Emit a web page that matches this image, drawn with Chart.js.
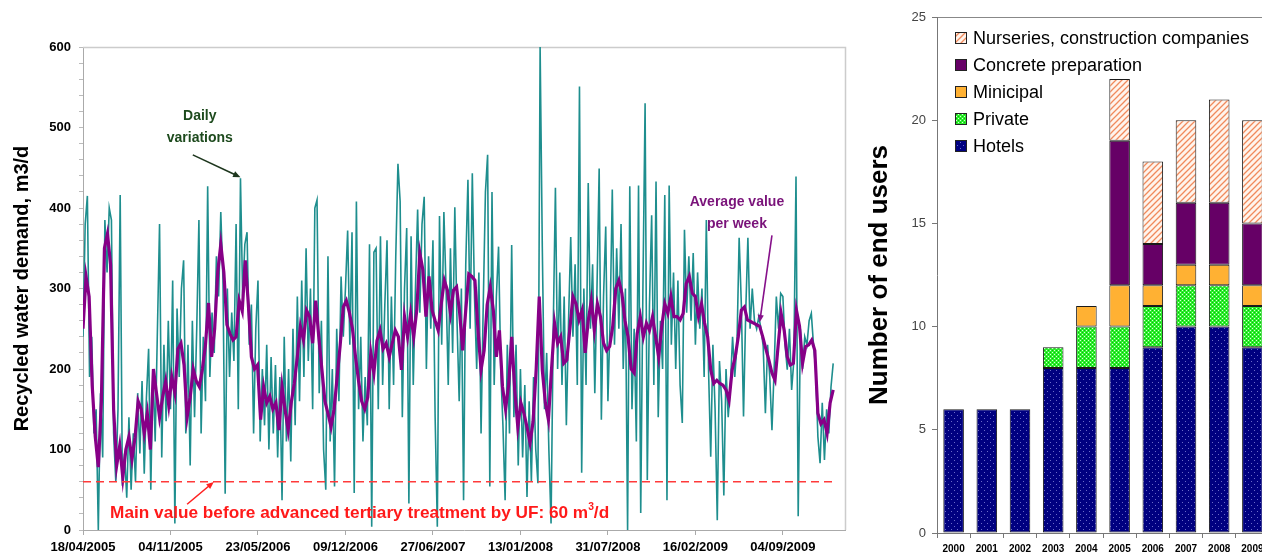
<!DOCTYPE html>
<html><head><meta charset="utf-8">
<script src="https://cdn.jsdelivr.net/npm/chart.js@4.4.0/dist/chart.umd.min.js"></script>
<style>
html,body{margin:0;padding:0;background:#fff;overflow:hidden;width:1262px;height:559px;position:relative;}
#w1{position:absolute;left:0;top:0;width:860px;height:559px;}
#w2{position:absolute;left:860px;top:0;width:420px;height:559px;}
</style></head><body>
<div id="w1"><canvas id="c1"></canvas></div>
<div id="w2"><canvas id="c2"></canvas></div>
<script>
// ---------- LEFT CHART DATA ----------
const dateTickLabels = ["18/04/2005","04/11/2005","23/05/2006","09/12/2006","27/06/2007","13/01/2008","31/07/2008","16/02/2009","04/09/2009"];
const dateTickDays = [0,200,400,600,800,1000,1200,1400,1600];
const xMaxDay = 1742;
const yTicksMajor = [0,100,200,300,400,500,600];
const dailyStepDays = 5;
const dailyDemand = [
240,380,415,190,240,120,150,0,170,90,
385,320,400,385,120,60,150,416,55,95,
40,140,50,120,60,170,95,185,70,165,
225,50,200,110,245,380,90,230,135,260,
150,310,8,275,190,300,335,120,230,80,
260,140,250,385,120,240,160,427,190,270,
220,340,290,395,310,45,300,190,270,210,
380,150,437,290,355,370,230,280,120,250,
310,110,200,130,230,100,215,120,205,90,
190,37,240,110,200,85,250,130,290,160,
310,190,350,210,300,150,400,410,170,260,
100,50,340,110,200,54,250,160,315,240,
300,372,230,370,46,408,150,240,110,190,
130,355,4,345,350,150,365,180,280,360,
150,290,180,340,455,408,140,300,375,33,
365,180,300,398,270,380,414,200,340,250,
360,140,4,390,230,395,300,180,350,220,
401,260,160,300,37,330,435,250,443,290,
200,320,120,280,420,466,54,420,180,290,
352,200,130,37,230,120,354,140,230,80,
200,90,180,41,160,60,190,100,58,600,
352,150,220,100,8,250,425,200,320,180,
290,130,260,364,240,330,180,551,71,300,
180,431,250,330,170,300,449,137,290,377,
160,260,423,230,350,250,380,200,300,0,
427,150,250,110,428,21,300,530,62,280,
391,180,433,140,260,200,416,37,428,230,
320,200,310,180,133,373,270,340,260,344,
230,320,250,300,190,385,200,91,230,150,
12,210,160,43,200,140,180,240,190,230,
363,280,141,270,363,250,300,260,250,265,
250,228,145,230,190,124,200,290,250,294,
290,230,199,250,174,210,439,17,250,200,
240,230,260,269,230,200,116,83,158,87,150,120,178,207
];
const weekStepDays = 7;
const weeklyAverage = [
250,315,290,180,116,78,160,350,368,330,
150,80,105,65,100,116,88,115,160,150,
120,145,100,200,170,140,165,185,155,190,
170,225,232,205,140,165,200,185,178,200,
230,282,215,250,320,355,320,255,244,236,
240,285,272,335,280,215,200,205,137,178,
158,166,150,158,124,178,149,124,158,182,
215,253,236,273,265,232,285,240,200,160,
145,128,150,190,230,277,285,270,250,215,
185,160,150,165,220,195,235,248,225,232,
215,232,248,240,199,265,240,269,240,273,
344,323,265,315,273,260,248,281,310,298,
269,298,302,270,223,273,318,315,310,248,
199,223,280,302,273,215,248,178,150,180,
240,174,128,158,145,128,108,135,200,290,
199,158,137,199,257,232,240,207,211,250,
290,281,261,273,220,260,285,248,281,265,
232,223,228,253,300,310,294,260,240,200,
195,244,265,240,257,248,265,240,215,253,
281,269,290,265,265,261,269,306,315,294,
290,265,281,257,240,199,182,186,182,180,
174,161,199,215,240,273,277,261,259,257,
255,253,240,225,211,195,186,228,269,248,
215,205,207,273,253,207,228,230,236,223,
145,132,137,120,158,174
];
const thresholdValue = 60;
const thresholdDays = [0,1719];

// ---------- RIGHT CHART DATA ----------
const years = ["2000","2001","2002","2003","2004","2005","2006","2007","2008","2009"];
const hotels     = [6,6,6,8,8,8,9,10,10,9];
const privateU   = [0,0,0,1,2,2,2,2,2,2];
const municipal  = [0,0,0,0,1,2,1,1,1,1];
const concrete   = [0,0,0,0,0,7,2,3,3,3];
const nurseries  = [0,0,0,0,0,3,4,4,5,5];
const seriesNames = ["Hotels","Private","Minicipal","Concrete preparation","Nurseries, construction companies"];

Chart.defaults.font.family = "'Liberation Sans', Arial, sans-serif";
Chart.defaults.color = '#000';

function arrow(ctx, x1, y1, x2, y2, color, w, head) {
  head = head || 8;
  const ang = Math.atan2(y2 - y1, x2 - x1);
  ctx.strokeStyle = color; ctx.fillStyle = color; ctx.lineWidth = w;
  ctx.beginPath(); ctx.moveTo(x1, y1);
  ctx.lineTo(x2 - Math.cos(ang) * head * 0.8, y2 - Math.sin(ang) * head * 0.8); ctx.stroke();
  ctx.beginPath(); ctx.moveTo(x2, y2);
  ctx.lineTo(x2 - head * Math.cos(ang - 0.4), y2 - head * Math.sin(ang - 0.4));
  ctx.lineTo(x2 - head * Math.cos(ang + 0.4), y2 - head * Math.sin(ang + 0.4));
  ctx.closePath(); ctx.fill();
}

const leftDecor = {
  id: 'leftDecor',
  beforeDatasetsDraw(chart) {
    const ctx = chart.ctx, a = chart.chartArea;
    ctx.save();
    ctx.strokeStyle = '#cccccc'; ctx.lineWidth = 1.5;
    ctx.beginPath();
    ctx.moveTo(a.left, a.top + 0.5); ctx.lineTo(a.right + 0.5, a.top + 0.5); ctx.lineTo(a.right + 0.5, a.bottom);
    ctx.stroke();
    ctx.restore();
  },
  afterDatasetsDraw(chart) {
    const ctx = chart.ctx, sx = chart.scales.x, sy = chart.scales.y;
    const P = (d, v) => [sx.getPixelForValue(d), sy.getPixelForValue(v)];
    ctx.save();
    ctx.textAlign = 'center'; ctx.textBaseline = 'middle';
    ctx.font = "bold 14px 'Liberation Sans', Arial, sans-serif";
    ctx.fillStyle = '#1d4a1d';
    let p = P(267, 514); ctx.fillText('Daily', p[0], p[1]);
    p = P(267, 487); ctx.fillText('variations', p[0], p[1]);
    let s = P(251, 466), e = P(360, 437);
    arrow(ctx, s[0], s[1], e[0], e[1] - 1, '#1d361d', 1.6, 8);

    ctx.fillStyle = '#7a137a';
    p = P(1495, 407); ctx.fillText('Average value', p[0], p[1]);
    p = P(1495, 380); ctx.fillText('per week', p[0], p[1]);
    s = P(1575, 366); e = P(1547, 258);
    arrow(ctx, s[0], s[1], e[0], e[1], '#86108a', 1.6, 8);

    const t1 = 'Main value before advanced tertiary treatment by UF: 60 m';
    const t2 = '3', t3 = '/d';
    let fs = 15;
    ctx.font = "bold " + fs + "px 'Liberation Sans', Arial, sans-serif";
    const wTot = ctx.measureText(t1 + t3).width + fs * 0.4;
    const start = P(62, 21);
    const target = sx.getPixelForValue(1206) - start[0];
    fs = fs * target / wTot;
    ctx.textAlign = 'left';
    ctx.fillStyle = '#ff1a1a';
    ctx.font = "bold " + fs + "px 'Liberation Sans', Arial, sans-serif";
    ctx.fillText(t1, start[0], start[1]);
    let x = start[0] + ctx.measureText(t1).width;
    ctx.font = "bold " + (fs * 0.6) + "px 'Liberation Sans', Arial, sans-serif";
    ctx.fillText(t2, x, start[1] - fs * 0.35);
    x += ctx.measureText(t2).width;
    ctx.font = "bold " + fs + "px 'Liberation Sans', Arial, sans-serif";
    ctx.fillText(t3, x, start[1]);
    s = P(238, 32); e = P(299, 61);
    arrow(ctx, s[0], s[1], e[0], e[1] + 1, '#ff2020', 1.6, 8);
    ctx.restore();
  }
};

const c1 = new Chart(document.getElementById('c1'), {
  type: 'line',
  data: {
    datasets: [
      { label: 'UF threshold', data: thresholdDays.map(d => ({ x: d, y: thresholdValue })),
        borderColor: '#ff3a3a', borderWidth: 1.5, borderDash: [8, 5], pointRadius: 0, order: 0 },
      { label: 'Average value per week', data: weeklyAverage.map((v, i) => ({ x: i * weekStepDays, y: v })),
        borderColor: '#870087', borderWidth: 3.2, pointRadius: 0, tension: 0, order: 1 },
      { label: 'Daily variations', data: dailyDemand.map((v, i) => ({ x: i * dailyStepDays, y: v })),
        borderColor: '#1e8e8e', borderWidth: 1.6, pointRadius: 0, tension: 0, order: 2 }
    ]
  },
  options: {
    responsive: true, maintainAspectRatio: false, animation: false,
    layout: { padding: { left: 0, top: 47, right: 15, bottom: 0 } },
    plugins: { legend: { display: false }, tooltip: { enabled: false } },
    scales: {
      x: {
        type: 'linear', min: 0, max: xMaxDay,
        afterBuildTicks: s => { s.ticks = dateTickDays.map(v => ({ value: v })); },
        afterFit: s => { s.height = 29; },
        ticks: { callback: v => { const i = dateTickDays.indexOf(v); return i >= 0 ? dateTickLabels[i] : ''; },
          font: { size: 13, weight: 'bold' }, color: '#000', maxRotation: 0, autoSkip: false, padding: 5 },
        grid: { drawOnChartArea: false, tickLength: 5, color: '#aaaaaa' },
        border: { color: '#aaaaaa' }
      },
      y: {
        min: 0, max: 600,
        afterBuildTicks: s => { const t = []; for (let v = 0; v <= 600; v += 20) t.push({ value: v }); s.ticks = t; },
        afterFit: s => { s.width = 83; },
        ticks: { callback: v => yTicksMajor.includes(v) ? String(v) : '', font: { size: 13, weight: 'bold' }, color: '#000', padding: 8, autoSkip: false },
        grid: { drawOnChartArea: false, tickLength: 4, color: '#bbbbbb' },
        border: { color: '#aaaaaa' },
        title: { display: true, text: 'Recycled water demand, m3/d', font: { size: 20, weight: 'bold' }, color: '#000', padding: { top: 10, bottom: 0 } }
      }
    }
  },
  plugins: [leftDecor]
});

// ---------- RIGHT CHART ----------
const ctx2 = document.getElementById('c2').getContext('2d');
function makePattern(size, bg, draw) {
  const c = document.createElement('canvas'); c.width = size; c.height = size;
  const x = c.getContext('2d'); x.fillStyle = bg; x.fillRect(0, 0, size, size); draw(x);
  return ctx2.createPattern(c, 'repeat');
}
const patHotels = makePattern(6, '#000080', x => { x.fillStyle = '#6a6ac8'; x.fillRect(1, 1, 1, 1); x.fillRect(4, 4, 1, 1); });
const patPrivate = makePattern(4, '#2cf02c', x => { x.fillStyle = '#d8ffd8'; x.fillRect(0, 0, 1, 1); x.fillRect(2, 2, 1, 1); x.fillStyle = '#10b010'; x.fillRect(2, 0, 1, 1); x.fillRect(0, 2, 1, 1); });
const patNurs = makePattern(6, '#fff4ec', x => { x.strokeStyle = '#f08a5c'; x.lineWidth = 1.3; x.beginPath(); x.moveTo(-1, 7); x.lineTo(7, -1); x.moveTo(-1, 1); x.lineTo(1, -1); x.moveTo(5, 7); x.lineTo(7, 5); x.stroke(); });
const seriesData = [hotels, privateU, municipal, concrete, nurseries];
const seriesFill = [patHotels, patPrivate, '#ffb133', '#660066', patNurs];

const legendDraw = {
  id: 'legendDraw',
  afterDraw(chart) {
    const ctx = chart.ctx, a = chart.chartArea;
    ctx.save();
    ctx.font = "18px 'Liberation Sans', Arial, sans-serif";
    ctx.textBaseline = 'middle'; ctx.textAlign = 'left';
    const ds = chart.data.datasets.slice().reverse();
    const x0 = a.left + 18;
    ds.forEach((d, i) => {
      const yc = a.top + 21 + i * 27;
      ctx.fillStyle = d.backgroundColor; ctx.fillRect(x0, yc - 6, 12, 12);
      ctx.strokeStyle = '#222'; ctx.lineWidth = 1; ctx.strokeRect(x0 + 0.5, yc - 5.5, 11, 11);
      ctx.fillStyle = '#000'; ctx.fillText(d.label, x0 + 18, yc + 1);
    });
    ctx.restore();
  }
};

new Chart(document.getElementById('c2'), {
  type: 'bar',
  data: {
    labels: years,
    datasets: seriesNames.map((n, i) => ({
      label: n, data: seriesData[i].map(v => v === 0 ? null : v),
      backgroundColor: seriesFill[i], borderColor: '#1a1a1a', borderWidth: 1, borderSkipped: false,
      barPercentage: 0.62, categoryPercentage: 1
    }))
  },
  options: {
    responsive: true, maintainAspectRatio: false, animation: false,
    layout: { padding: { left: 0, top: 17, right: 11, bottom: 0 } },
    plugins: { legend: { display: false }, tooltip: { enabled: false } },
    scales: {
      x: { stacked: true, afterFit: s => { s.height = 26; },
        grid: { drawOnChartArea: false, tickLength: 5, color: '#777', offset: true },
        border: { color: '#777' },
        ticks: { font: { size: 10, weight: 'bold' }, color: '#000', padding: 5, maxRotation: 0, autoSkip: false } },
      y: { stacked: true, min: 0, max: 25, afterFit: s => { s.width = 77; },
        ticks: { stepSize: 5, font: { size: 13 }, color: '#444', padding: 6 },
        grid: { color: c => (c.tick && c.tick.value === 25) ? '#888' : 'rgba(0,0,0,0)', tickColor: '#777', tickLength: 5 },
        border: { color: '#777' },
        title: { display: true, text: 'Number of end users', font: { size: 26, weight: 'bold' }, color: '#000', padding: { top: 4, bottom: 0 } } }
    }
  },
  plugins: [legendDraw]
});
</script></body></html>
